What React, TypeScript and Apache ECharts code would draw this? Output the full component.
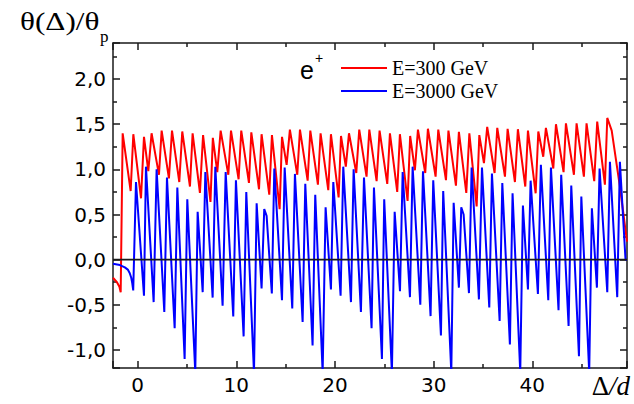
import React, { useEffect, useRef } from 'react';
import * as echarts from 'echarts';

// Δ/d positions and θ(Δ)/θp values
const redDelta = [
  -2.5, -2.1, -1.85, -1.72, -1.52, -0.71, -0.44, 0.34, 0.64, 1.08, 1.41, 2.16, 2.43, 3.17, 3.48, 4.22, 4.52, 5.3, 5.57, 6.31,
  6.63, 7.38, 7.62, 8.07, 8.41, 9.19, 9.46, 10.23, 10.5, 11.28, 11.52, 12.3, 12.56, 13.34, 13.61, 14.39, 14.63, 15.1, 15.43, 16.18,
  16.45, 17.23, 17.5, 18.27, 18.54, 19.32, 19.59, 20.37, 20.61, 21.1, 21.42, 22.16, 22.46, 23.2, 23.48, 24.22, 24.52, 25.3, 25.57, 26.31,
  26.58, 27.36, 27.62, 28.1, 28.41, 29.15, 29.42, 30.2, 30.47, 31.25, 31.5, 32.26, 32.56, 33.31, 33.62, 34.36, 34.63, 35.1, 35.43, 36.18,
  36.45, 37.23, 37.5, 38.24, 38.54, 39.29, 39.56, 40.34, 40.61, 41.11, 41.38, 42.13, 42.4, 43.17, 43.41, 44.22, 44.49, 45.23, 45.5, 46.28,
  46.58, 47.36, 47.6, 48.05, 48.88, 49.6,
];
const redTheta = [
  -0.2, -0.25, -0.3, -0.36, 1.4, 0.76, 1.39, 0.68, 1.36, 0.98, 1.4, 0.94, 1.43, 0.9, 1.43, 0.86, 1.42, 0.81, 1.4, 0.74,
  1.38, 0.64, 1.35, 0.97, 1.43, 0.94, 1.43, 0.89, 1.43, 0.85, 1.41, 0.78, 1.39, 0.72, 1.38, 0.56, 1.36, 1.05, 1.44, 0.94,
  1.44, 0.875, 1.43, 0.83, 1.4, 0.77, 1.39, 0.69, 1.37, 1.03, 1.4, 0.96, 1.44, 0.92, 1.44, 0.87, 1.43, 0.84, 1.4, 0.75,
  1.39, 0.65, 1.37, 0.99, 1.44, 0.96, 1.45, 0.92, 1.44, 0.88, 1.43, 0.82, 1.415, 0.74, 1.4, 0.59, 1.38, 1.07, 1.47, 0.96,
  1.46, 0.92, 1.45, 0.86, 1.445, 0.81, 1.43, 0.735, 1.42, 1.14, 1.46, 1.01, 1.5, 0.97, 1.51, 0.94, 1.51, 0.92, 1.51, 0.87,
  1.53, 0.83, 1.57, 1.43, 0.81, 0.2,
];

const blueDelta = [
  -2.5, -1.8, -1.3, -1.0, -0.8, -0.65, -0.55, -0.45, -0.17, 0.64, 0.84, 1.62, 1.92, 2.7, 2.97, 3.75, 4.02, 4.76, 5.03, 5.84,
  6.08, 6.59, 6.86, 7.6, 7.87, 8.61, 8.92, 9.69, 9.96, 10.74, 11.01, 11.79, 12.06, 12.56, 12.83, 13.07, 13.6, 13.85, 14.63, 14.9,
  15.67, 15.94, 16.72, 16.99, 17.73, 18.0, 18.75, 19.05, 19.59, 19.83, 20.57, 20.84, 21.62, 21.89, 22.63, 22.94, 23.71, 23.95, 24.76, 24.99,
  25.77, 26.05, 26.59, 26.86, 27.6, 27.87, 28.65, 28.92, 29.69, 29.96, 30.74, 30.97, 31.79, 32.03, 32.56, 32.8, 33.04, 33.58, 33.85, 34.59,
  34.9, 35.64, 35.91, 36.69, 36.96, 37.73, 38.0, 38.78, 39.05, 39.56, 39.83, 40.57, 40.87, 41.62, 41.89, 42.66, 42.93, 43.68, 43.95, 44.73,
  44.97, 45.77, 46.04, 46.55, 46.82, 47.6, 47.87, 48.61, 48.88, 49.45, 49.6,
];
const blueTheta = [
  -0.045, -0.06, -0.085, -0.11, -0.15, -0.2, -0.26, -0.34, 0.86, -0.4, 1.03, -0.47, 1.0, -0.58, 0.91, -0.76, 0.8, -1.1, 0.67, -1.25,
  0.53, -0.36, 0.97, -0.42, 1.03, -0.51, 0.97, -0.63, 0.88, -0.85, 0.75, -1.25, 0.625, -0.32, 0.56, 0.485, -0.375, 1.01, -0.45, 1.02,
  -0.54, 0.95, -0.69, 0.84, -0.95, 0.72, -1.25, 0.58, -0.33, 0.86, -0.4, 1.03, -0.47, 1.0, -0.58, 0.91, -0.76, 0.8, -1.1, 0.67,
  -1.25, 0.53, -0.35, 0.97, -0.415, 1.03, -0.5, 0.98, -0.625, 0.88, -0.84, 0.76, -1.25, 0.63, -0.31, 0.58, 0.5, -0.37, 1.02, -0.44,
  1.02, -0.53, 0.955, -0.68, 0.85, -0.94, 0.735, -1.25, 0.6, -0.33, 0.875, -0.38, 1.05, -0.45, 1.02, -0.56, 0.94, -0.735, 0.82, -1.07,
  0.7, -1.25, 0.57, -0.31, 1.01, -0.36, 1.085, -0.415, 1.085, 0.0, 0.0,
];

const zeroDelta = [-2.5, 49.6];
const zeroTheta = [0, 0];

const seriesNames = ['E=300 GeV', 'E=3000 GeV'];
const seriesColors = ['#ff0000', '#0000ff'];

const xRange = [-2.5, 49.6];
const yRange = [-1.2, 2.4];

const pairs = (xs: number[], ys: number[]) => xs.map((x, i) => [x, ys[i]]);

export default function App() {
  const ref = useRef<HTMLDivElement>(null);

  useEffect(() => {
    if (!ref.current) return;
    const chart = echarts.init(ref.current, null, { renderer: 'svg' });
    const ink = '#1a1a1a';
    const axisLine = { show: true, onZero: false, lineStyle: { color: ink, width: 1.5 } };
    const axisTick = { show: true, inside: true, length: 7, lineStyle: { color: ink, width: 1.5 } };
    const minorTick = { show: true, splitNumber: 2, length: 4, lineStyle: { color: ink, width: 1.5 } };
    const labelFont = { fontFamily: 'DejaVu Sans', fontSize: 20, color: '#000' };

    const xBase = {
      type: 'value', min: xRange[0], max: xRange[1], splitNumber: 5,
      splitLine: { show: false }, axisLine, axisTick, minorTick,
    };
    const yBase = {
      type: 'value', min: yRange[0], max: yRange[1], splitNumber: 7,
      splitLine: { show: false }, axisLine, axisTick, minorTick,
    };

    chart.setOption({
      animation: false,
      backgroundColor: '#fff',
      grid: { left: 113, right: 7, top: 43, bottom: 36, containLabel: false },
      xAxis: [
        {
          ...xBase, position: 'bottom',
          axisLabel: { ...labelFont, margin: 7, showMinLabel: false, showMaxLabel: false, formatter: (v: number) => String(v) },
        },
        { ...xBase, position: 'top', axisLabel: { show: false } },
      ],
      yAxis: [
        {
          ...yBase, position: 'left',
          axisLabel: {
            ...labelFont, margin: 7, showMinLabel: false, showMaxLabel: false,
            formatter: (v: number) => v.toFixed(1).replace('.', ','),
          },
        },
        { ...yBase, position: 'right', axisLabel: { show: false } },
      ],
      legend: {
        data: seriesNames,
        orient: 'vertical',
        left: 336,
        top: 53,
        icon: 'rect',
        itemWidth: 46,
        itemHeight: 2,
        itemGap: 3,
        textStyle: { fontFamily: 'Liberation Serif', fontSize: 20, color: '#000' },
      },
      series: [
        {
          type: 'line', name: seriesNames[0], data: pairs(redDelta, redTheta),
          symbol: 'none', showSymbol: false, z: 2,
          lineStyle: { color: seriesColors[0], width: 2 }, itemStyle: { color: seriesColors[0] },
        },
        {
          type: 'line', name: seriesNames[1], data: pairs(blueDelta, blueTheta),
          symbol: 'none', showSymbol: false, z: 2,
          lineStyle: { color: seriesColors[1], width: 2 }, itemStyle: { color: seriesColors[1] },
        },
        {
          type: 'line', name: 'zero', data: pairs(zeroDelta, zeroTheta),
          symbol: 'none', showSymbol: false, silent: true, z: 3,
          lineStyle: { color: ink, width: 1.8 },
        },
      ],
      graphic: [
        {
          type: 'text', x: 20, y: 21, scaleX: 1.2,
          style: { text: 'θ(Δ)/θ', fontFamily: 'Liberation Serif', fontSize: 26, fill: '#000', verticalAlign: 'middle', align: 'left' },
        },
        {
          type: 'text', x: 100, y: 36,
          style: { text: 'p', fontFamily: 'Liberation Serif', fontSize: 17, fill: '#000', verticalAlign: 'middle', align: 'left' },
        },
        {
          type: 'text', x: 300, y: 70,
          style: { text: 'e', fontFamily: 'Liberation Sans', fontSize: 25, fill: '#000', verticalAlign: 'middle', align: 'left' },
        },
        {
          type: 'text', x: 315, y: 58,
          style: { text: '+', fontFamily: 'Liberation Sans', fontSize: 14, fill: '#000', verticalAlign: 'middle', align: 'left' },
        },
        {
          type: 'text', x: 630, y: 386,
          style: {
            text: '{n|Δ}{i|/d}', align: 'right', verticalAlign: 'middle',
            rich: {
              n: { fontFamily: 'Liberation Serif', fontSize: 27, fill: '#000' },
              i: { fontFamily: 'Liberation Serif', fontStyle: 'italic', fontSize: 27, fill: '#000' },
            },
          },
        },
      ],
    });
    return () => chart.dispose();
  }, []);

  return <div ref={ref} style={{ position: 'absolute', left: 0, top: 0, width: 634, height: 404 }} />;
}
